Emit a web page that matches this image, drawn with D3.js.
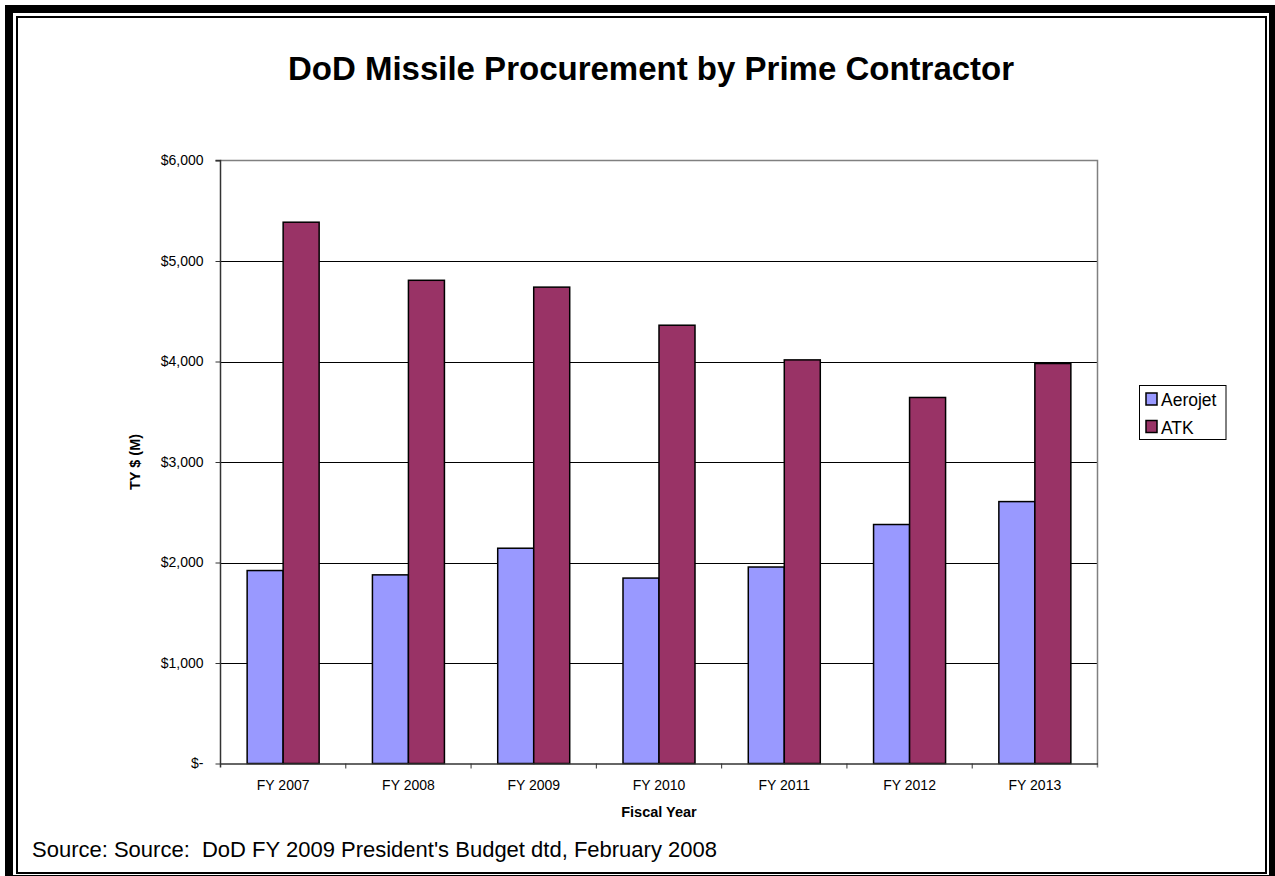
<!DOCTYPE html>
<html>
<head>
<meta charset="utf-8">
<script src="https://cdn.jsdelivr.net/npm/d3@7"></script>
<style>
  html, body { margin: 0; padding: 0; background: #fff; }
  svg { display: block; font-family: Arial, "Liberation Sans", sans-serif; }
</style>
</head>
<body>
<svg id="chart" width="1275" height="876"></svg>
<script>
const categories = ["FY 2007", "FY 2008", "FY 2009", "FY 2010", "FY 2011", "FY 2012", "FY 2013"];
const seriesNames = ["Aerojet", "ATK"];
const aerojet = [1920, 1877, 2142, 1845, 1955, 2378, 2606];
const atk = [5386, 4808, 4740, 4361, 4016, 3642, 3980];
const yTicks = [0, 1000, 2000, 3000, 4000, 5000, 6000];
const seriesColors = ["#9999FF", "#993366"];

const svg = d3.select("#chart");
const W = 1275, H = 876;

// Frame
svg.append("rect").attr("x", 5).attr("y", 5).attr("width", W - 5).attr("height", H).attr("fill", "#000");
svg.append("rect").attr("x", 13).attr("y", 13).attr("width", 1256).attr("height", 862).attr("fill", "#fff");
svg.append("rect").attr("x", 17).attr("y", 17).attr("width", 1249).attr("height", 856)
  .attr("fill", "none").attr("stroke", "#000").attr("stroke-width", 2);

const m = { left: 220.5, right: 1097.5, top: 160.5, bottom: 763.5 };

const x0 = d3.scaleBand().domain(categories).range([m.left, m.right]).padding(0);
const x1 = d3.scaleBand().domain(seriesNames).range([0, x0.bandwidth()]).paddingInner(0).paddingOuter(0.74);
const y = d3.scaleLinear().domain([0, 6000]).range([m.bottom, m.top]);
const color = d3.scaleOrdinal().domain(seriesNames).range(seriesColors);

// Title
svg.append("text").attr("x", 651).attr("y", 80).attr("text-anchor", "middle")
  .attr("font-size", 33).attr("font-weight", "bold").attr("fill", "#000")
  .text("DoD Missile Procurement by Prime Contractor");

// Gridlines
svg.append("g").selectAll("line").data(yTicks.filter(t => t > 0 && t < 6000)).join("line")
  .attr("x1", m.left).attr("x2", m.right)
  .attr("y1", d => Math.round(y(d)) + 0.5).attr("y2", d => Math.round(y(d)) + 0.5)
  .attr("stroke", "#000").attr("stroke-width", 1);

// Plot border top/right
svg.append("path")
  .attr("d", `M${m.left},${m.top}H${m.right}V${m.bottom + 4}`)
  .attr("fill", "none").attr("stroke", "#808080").attr("stroke-width", 1.5);

// Bars
const data = categories.map((c, i) => ({ cat: c, vals: [aerojet[i], atk[i]] }));
const groups = svg.append("g").selectAll("g").data(data).join("g")
  .attr("transform", d => `translate(${x0(d.cat)},0)`);
groups.selectAll("rect").data(d => seriesNames.map((s, j) => ({ s, v: d.vals[j] }))).join("rect")
  .attr("x", d => x1(d.s))
  .attr("y", d => y(d.v))
  .attr("width", x1.bandwidth())
  .attr("height", d => y(0) - y(d.v))
  .attr("fill", d => color(d.s))
  .attr("stroke", "#000").attr("stroke-width", 1.5);

// Y axis
const yAxis = d3.axisLeft(y).tickValues(yTicks).tickSize(5).tickPadding(12)
  .tickFormat(d => d === 0 ? "$-" : "$" + d3.format(",")(d));
const yg = svg.append("g").attr("transform", `translate(${m.left},0)`).call(yAxis);
yg.select(".domain").attr("d", `M-5,${m.top}H0V${m.bottom + 4}`).attr("stroke", "#333").attr("stroke-width", 1.5);
yg.selectAll(".tick line").attr("stroke", "#333");
yg.selectAll(".tick text").attr("font-size", 14).attr("fill", "#000").attr("font-family", "Arial, 'Liberation Sans', sans-serif");

// X axis
const xAxis = d3.axisBottom(x0).tickSize(0).tickPadding(17);
const xg = svg.append("g").attr("transform", `translate(0,${m.bottom})`).call(xAxis);
xg.select(".domain").attr("stroke", "#333").attr("stroke-width", 1.5);
xg.selectAll(".tick text").attr("font-size", 14).attr("fill", "#000").attr("font-family", "Arial, 'Liberation Sans', sans-serif");
// category boundary ticks
svg.append("g").selectAll("line").data(categories.slice(1)).join("line")
  .attr("x1", d => x0(d)).attr("x2", d => x0(d))
  .attr("y1", m.bottom).attr("y2", m.bottom + 5)
  .attr("stroke", "#333").attr("stroke-width", 1);

// Axis titles
svg.append("text").attr("x", (m.left + m.right) / 2).attr("y", 817).attr("text-anchor", "middle")
  .attr("font-size", 14.5).attr("font-weight", "bold").text("Fiscal Year");
svg.append("text").attr("transform", `translate(140,${(m.top + m.bottom) / 2}) rotate(-90)`)
  .attr("text-anchor", "middle").attr("font-size", 14.5).attr("font-weight", "bold").text("TY $ (M)");

// Legend
const lg = svg.append("g");
lg.append("rect").attr("x", 1139.5).attr("y", 385.5).attr("width", 86.5).attr("height", 54)
  .attr("fill", "#fff").attr("stroke", "#000").attr("stroke-width", 1);
seriesNames.forEach((s, i) => {
  lg.append("rect").attr("x", 1146).attr("y", 393 + i * 27.5).attr("width", 11).attr("height", 12)
    .attr("fill", color(s)).attr("stroke", "#000").attr("stroke-width", 1.5);
  lg.append("text").attr("x", 1161).attr("y", 406 + i * 27.5).attr("font-size", 17.5).text(s);
});

// Source
svg.append("text").attr("x", 32).attr("y", 857).attr("font-size", 22)
  .text("Source: Source:  DoD FY 2009 President's Budget dtd, February 2008").attr("xml:space", "preserve")
  .style("white-space", "pre");
</script>
</body>
</html>
